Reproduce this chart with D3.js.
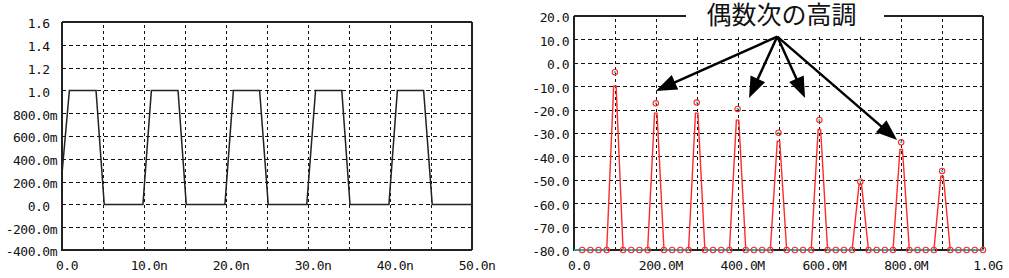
<!DOCTYPE html>
<html><head><meta charset="utf-8">
<script src="https://cdn.jsdelivr.net/npm/d3@7"></script>
<style>
html,body{margin:0;padding:0;background:#fff;}
svg{display:block;}
.tick text{font-family:"DejaVu Sans Mono",monospace;font-size:13px;letter-spacing:-0.5px;fill:#111;}
</style></head>
<body>
<svg id="c" width="1009" height="278"></svg>
<script>
// ---------- Left chart data (time domain) ----------
const waveTimeNs = [0, 0.9, 4.15, 5.15, 9.87, 10.9, 14.15, 15.15, 19.87, 20.9, 24.1, 25.15, 29.85, 30.92, 34.12, 35.12, 39.87, 40.9, 44.1, 45.15, 50];
const waveValue  = [0.27, 1, 1, 0, 0, 1, 1, 0, 0, 1, 1, 0, 0, 1, 1, 0, 0, 1, 1, 0, 0];
const leftYTicks  = [-0.4, -0.2, 0, 0.2, 0.4, 0.6, 0.8, 1.0, 1.2, 1.4, 1.6];
const leftYLabels = ["-400.0m", "-200.0m", "0.0\u00a0", "200.0m", "400.0m", "600.0m", "800.0m", "1.0\u00a0", "1.2\u00a0", "1.4\u00a0", "1.6\u00a0"];
const leftXTicks  = [0, 10, 20, 30, 40, 50];
const leftXLabels = ["0.0", "10.0n", "20.0n", "30.0n", "40.0n", "50.0n"];
const leftXGrid   = [5, 10, 15, 20, 25, 30, 35, 40, 45];

// ---------- Right chart data (spectrum) ----------
const harmonicMHz   = [100, 200, 300, 400, 500, 600, 700, 800, 900];
const harmonicLine  = [-10, -21.5, -21.5, -24.5, -33.5, -28.5, -52, -37, -48.5];
const peakOffsetMHz = [-20, -3, 3, 20];
const markerMHz = [20, 40, 60, 80, 100, 120, 140, 160, 180, 200, 220, 240, 260, 280, 300, 320, 340, 360, 380, 400,
                   420, 440, 460, 480, 500, 520, 540, 560, 580, 600, 620, 640, 660, 680, 700, 720, 740, 760, 780, 800,
                   820, 840, 860, 880, 900, 920, 940, 960, 980, 1000];
const markerDb  = [-80, -80, -80, -80, -4, -80, -80, -80, -80, -17.3, -80, -80, -80, -80, -17, -80, -80, -80, -80, -19.7,
                   -80, -80, -80, -80, -29.9, -80, -80, -80, -80, -24.4, -80, -80, -80, -80, -50.8, -80, -80, -80, -80, -34,
                   -80, -80, -80, -80, -46.2, -80, -80, -80, -80, -80];
const rightYTicks  = [-80, -70, -60, -50, -40, -30, -20, -10, 0, 10, 20];
const rightYLabels = ["-80.0", "-70.0", "-60.0", "-50.0", "-40.0", "-30.0", "-20.0", "-10.0", "0.0", "10.0", "20.0"];
const rightXTicks  = [0, 200, 400, 600, 800, 1000];
const rightXLabels = ["0.0", "200.0M", "400.0M", "600.0M", "800.0M", "1.0G"];
const rightXGrid   = [100, 200, 300, 400, 500, 600, 700, 800, 900];

const titleText = "偶数次の高調";
const arrowFrom = [497, 11.2];
const arrowTips = [[200, -12], [428, -15], [565, -15], [790, -33]];

// ---------- Drawing ----------
const svg = d3.select("#c");
svg.append("rect").attr("width", 1009).attr("height", 278).attr("fill", "#fff");

function gridAndAxes(x, y, xGrid, yGrid, xTicks, xLabels, yTicks, yLabels) {
  const [x0, x1] = x.range(), [y0, y1] = y.range();
  const W = x1 - x0, H = y0 - y1;
  const g = svg.append("g");
  g.append("g").attr("transform", `translate(${x0},0)`)
    .call(d3.axisLeft(y).tickValues(yGrid).tickSize(-W).tickFormat(""))
    .call(s => s.select(".domain").remove())
    .selectAll("line").attr("stroke", "#111").attr("stroke-dasharray", "4,3").attr("shape-rendering", "crispEdges");
  g.append("g").attr("transform", `translate(0,${y0})`)
    .call(d3.axisBottom(x).tickValues(xGrid).tickSize(-H).tickFormat(""))
    .call(s => s.select(".domain").remove())
    .selectAll("line").attr("stroke", "#111").attr("stroke-dasharray", "3,3").attr("shape-rendering", "crispEdges");
  g.append("g").attr("transform", `translate(${x0},0)`)
    .call(d3.axisLeft(y).tickValues(yTicks).tickSize(0).tickPadding(5).tickFormat((d, i) => yLabels[i]))
    .call(s => s.select(".domain").remove())
    .selectAll("text").attr("dy", "0.46em");
  g.append("g").attr("transform", `translate(0,${y0})`)
    .call(d3.axisBottom(x).tickValues(xTicks).tickSize(0).tickPadding(11).tickFormat((d, i) => xLabels[i]))
    .call(s => s.select(".domain").remove())
    .selectAll("text").attr("dx", 4.5);
  return g;
}

function frame(x, y) {
  const [x0, x1] = x.range(), [y0, y1] = y.range();
  const f = svg.append("g").attr("stroke", "#222").attr("shape-rendering", "crispEdges");
  f.append("line").attr("x1", x0).attr("x2", x1).attr("y1", y1).attr("y2", y1).attr("stroke-width", 1.5);
  f.append("line").attr("x1", x1).attr("x2", x1).attr("y1", y1).attr("y2", y0).attr("stroke-width", 1.5);
  f.append("line").attr("x1", x0).attr("x2", x0).attr("y1", y1).attr("y2", y0 + 1).attr("stroke-width", 2);
  f.append("line").attr("x1", x0).attr("x2", x1).attr("y1", y0).attr("y2", y0).attr("stroke-width", 2);
}

// Left chart
const xL = d3.scaleLinear([0, 50], [62, 472]);
const yL = d3.scaleLinear([-0.4, 1.6], [250, 22]);
gridAndAxes(xL, yL, leftXGrid, leftYTicks.slice(1, -1), leftXTicks, leftXLabels, leftYTicks, leftYLabels);
frame(xL, yL);
svg.append("path")
  .datum(waveTimeNs.map((t, i) => [t, waveValue[i]]))
  .attr("fill", "none").attr("stroke", "#222").attr("stroke-width", 1.5)
  .attr("d", d3.line().x(d => xL(d[0])).y(d => yL(d[1])));

// Right chart
const xR = d3.scaleLinear([0, 1000], [574, 983]);
const yR = d3.scaleLinear([-80, 20], [250, 16]);
gridAndAxes(xR, yR, rightXGrid, rightYTicks.slice(1, -1), rightXTicks, rightXLabels, rightYTicks, rightYLabels);

const line = d3.line().x(d => xR(d[0])).y(d => yR(d[1]));
harmonicMHz.forEach((f, i) => {
  const pts = peakOffsetMHz.map((o, j) => [f + o, (j === 0 || j === peakOffsetMHz.length - 1) ? -80 : harmonicLine[i]]);
  svg.append("path").datum(pts)
    .attr("fill", "none").attr("stroke", "#ff2a2a").attr("stroke-width", 1.4)
    .attr("d", line);
});

frame(xR, yR);

const cyanPts = [[0, -80]].concat(markerMHz.map((f, i) => [f, markerDb[i]]));
svg.append("path").datum(cyanPts)
  .attr("fill", "none").attr("stroke", "#1fd0d0").attr("stroke-width", 1.6)
  .attr("d", d3.line().defined(d => d[1] === -80).x(d => xR(d[0])).y(d => yR(d[1])));

const mk = svg.append("g");
markerMHz.forEach((f, i) => {
  mk.append("circle").attr("cx", xR(f)).attr("cy", yR(markerDb[i])).attr("r", 2.7)
    .attr("fill", "none").attr("stroke", "#ff2a2a").attr("stroke-width", 1.1);
  mk.append("circle").attr("cx", xR(f)).attr("cy", yR(markerDb[i])).attr("r", 1.1)
    .attr("fill", "#1fd0d0");
});

svg.append("rect").attr("x", 686).attr("y", 0).attr("width", 198).attr("height", 34).attr("fill", "#fff");
svg.append("text").attr("x", 781.5).attr("y", 24).attr("text-anchor", "middle")
  .attr("font-family", "'Noto Sans CJK JP', sans-serif").attr("font-size", 25).attr("fill", "#111")
  .text(titleText);

const ag = svg.append("g");
const fx = xR(arrowFrom[0]), fy = yR(arrowFrom[1]);
arrowTips.forEach(t => {
  const tx = xR(t[0]), ty = yR(t[1]);
  const dx = tx - fx, dy = ty - fy, L = Math.hypot(dx, dy);
  const ux = dx / L, uy = dy / L;
  const hl = 21, hw = 8;
  const bx = tx - ux * hl, by = ty - uy * hl;
  ag.append("line").attr("x1", fx).attr("y1", fy).attr("x2", bx + ux * 2).attr("y2", by + uy * 2)
    .attr("stroke", "#000").attr("stroke-width", 2.5);
  ag.append("path")
    .attr("d", `M${tx},${ty}L${bx - uy * hw},${by + ux * hw}L${bx + uy * hw},${by - ux * hw}Z`)
    .attr("fill", "#000");
});
</script>
</body></html>
